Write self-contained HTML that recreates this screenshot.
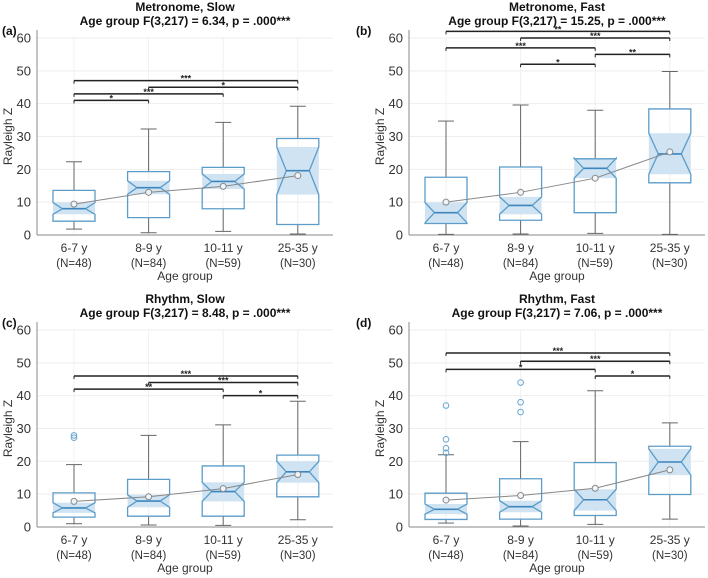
<!DOCTYPE html>
<html><head><meta charset="utf-8"><style>
body{margin:0;background:#fff;width:708px;height:578px;overflow:hidden}
svg{display:block;font-family:"Liberation Sans",Arial,sans-serif}
</style></head><body>
<svg id="fig" width="708" height="578" viewBox="0 0 708 578"></svg>
<script>
const categories=["6-7 y","8-9 y","10-11 y","25-35 y"];
const ns=["(N=48)","(N=84)","(N=59)","(N=30)"];
const yTicks=[0,10,20,30,40,50,60];
const titlesA=["Metronome, Slow","Metronome, Fast","Rhythm, Slow","Rhythm, Fast"];
const titlesB=["Age group F(3,217) = 6.34, p = .000***","Age group F(3,217) = 15.25, p = .000***","Age group F(3,217) = 8.48, p = .000***","Age group F(3,217) = 7.06, p = .000***"];
const panelLabels=["(a)","(b)","(c)","(d)"];
// per panel: [low, q1, med, q3, high, notchLo, notchHi, mean]
const statsA=[[1.8,4.2,8,13.6,22.3,6.3,9.9,9.4],[0.7,5.3,14.4,19.3,32.3,12.4,16.5,13],[1.1,8,16.3,20.6,34.3,14,18.6,14.8],[0.3,3.2,19.6,29.4,39.2,12.3,26.8,18.1]];
const statsB=[[0.2,3.5,6.8,17.6,34.7,3.7,9.9,10],[0.3,4.5,9,20.7,39.6,6.3,11.6,13],[0.5,6.8,20.3,23.2,38,17.3,23.4,17.3],[0.2,15.9,24.7,38.4,49.8,18.5,31,25.3]];
const statsC=[[1,3,5.8,10.4,19,4.3,7.4,7.8],[0.6,3.3,7.9,14.5,27.9,6,9.8,9.2],[0.5,3.3,10.8,18.6,31.1,7.8,13.6,11.7],[2.2,9.2,16.8,21.9,38.3,13.5,20,16]];
const statsD=[[1.2,2.3,5.4,10.3,22,3.9,7,8.2],[0.3,2.4,6.2,14.7,26,4.5,8,9.6],[0.8,3.5,8.3,19.6,41.5,5,11.5,11.8],[2.4,9.9,19.8,24.6,31.7,15.8,23.8,17.4]];
const outA=[[],[],[],[]];
const outB=[[],[],[],[]];
const outC=[[27.2,27.9],[],[],[]];
const outD=[[37,26.7,24,22.6],[35,38,44],[],[]];
// significance: [from, to, y, label]
const sigA=[[0,3,47,"***"],[1,3,45,"*"],[0,2,43,"***"],[0,1,41,"*"]];
const sigB=[[0,3,62,"**"],[1,3,60,"***"],[0,2,57,"***"],[2,3,55,"**"],[1,2,52,"*"]];
const sigC=[[0,3,46,"***"],[1,3,44,"***"],[0,2,42,"**"],[2,3,40,"*"]];
const sigD=[[0,3,53,"***"],[1,3,50.5,"***"],[0,2,48,"*"],[2,3,46,"*"]];

const panels=[
 {ox:0,oy:0,ax:37,stats:statsA,out:outA,sig:sigA},
 {ox:354,oy:0,ax:55,stats:statsB,out:outB,sig:sigB},
 {ox:0,oy:292,ax:37,stats:statsC,out:outC,sig:sigC},
 {ox:354,oy:292,ax:55,stats:statsD,out:outD,sig:sigD}];
const svg=document.getElementById('fig');
const NS="http://www.w3.org/2000/svg";
function mk(tag,attrs,parent,text){const e=document.createElementNS(NS,tag);for(const k in attrs)e.setAttribute(k,attrs[k]);if(text!==undefined)e.textContent=text;parent.appendChild(e);return e;}
panels.forEach((p,pi)=>{
 const g=mk('g',{transform:`translate(${p.ox},${p.oy})`},svg);
 
 
 const top=38,bot=235,left=p.ax,right=p.ax+296;
 const y=v=>bot-(v/60)*(bot-top);
 const x=i=>left+37+i*74.6;
 const half=21;
 yTicks.forEach(t=>{
  const gl=mk('line',{x1:left,x2:right,y1:y(t),y2:y(t),stroke:'#eeeeee','stroke-width':1},g);
  
  const tl=mk('text',{x:left-6,y:y(t)+4.5,'text-anchor':'end','font-size':13,fill:'#333'},g,String(t));
  
 });
 categories.forEach((c,i)=>{
  mk('line',{x1:x(i),x2:x(i),y1:top,y2:bot,stroke:'#f0f0f0'},g);
  const t1=mk('text',{x:x(i),y:bot+17,'text-anchor':'middle','font-size':12,fill:'#333'},g,c);
  
  const t2=mk('text',{x:x(i),y:bot+32,'text-anchor':'middle','font-size':11.5,fill:'#333'},g,ns[i]);
  
 });
 mk('line',{x1:left,x2:left,y1:top-8,y2:bot,stroke:'#888'},g);
 mk('line',{x1:left,x2:right,y1:bot,y2:bot,stroke:'#888'},g);
 const xt=mk('text',{x:(left+right)/2,y:bot+45,'text-anchor':'middle','font-size':12,fill:'#333'},g,'Age group');
 
 const yt=mk('text',{x:0,y:0,transform:`translate(${left-25},${(top+bot)/2}) rotate(-90)`,'text-anchor':'middle','font-size':12,fill:'#333'},g,'Rayleigh Z');
 
 const ta=mk('text',{x:(left+right)/2,y:11,'text-anchor':'middle','font-size':12,'font-weight':'bold',fill:'#111'},g,titlesA[pi]);
 
 const tb=mk('text',{x:(left+right)/2,y:25,'text-anchor':'middle','font-size':12,'font-weight':'bold',fill:'#111'},g,titlesB[pi]);
 
 const pl=mk('text',{x:2,y:35,'font-size':12,'font-weight':'bold',fill:'#111'},g,panelLabels[pi]);
 
 // boxes
 p.stats.forEach((s,i)=>{
  const [lo,q1,md,q3,hi,nl,nh,mn]=s;const cx=x(i),nw=half*0.55;
  mk('line',{x1:cx,x2:cx,y1:y(hi),y2:y(q3),stroke:'#666'},g);
  mk('line',{x1:cx,x2:cx,y1:y(q1),y2:y(lo),stroke:'#666'},g);
  mk('line',{x1:cx-8,x2:cx+8,y1:y(hi),y2:y(hi),stroke:'#666'},g);
  mk('line',{x1:cx-8,x2:cx+8,y1:y(lo),y2:y(lo),stroke:'#666'},g);
  const band=mk('rect',{x:cx-half,y:y(nh),width:2*half,height:y(nl)-y(nh),fill:'#cfe3f3'},g);
  
  const pts=[[cx-half,y(q1)],[cx-half,y(nl)],[cx-nw,y(md)],[cx-half,y(nh)],[cx-half,y(q3)],[cx+half,y(q3)],[cx+half,y(nh)],[cx+nw,y(md)],[cx+half,y(nl)],[cx+half,y(q1)]];
  const box=mk('polygon',{points:pts.map(a=>a.join(',')).join(' '),fill:'none',stroke:'#5b9cc9','stroke-width':1.3},g);
  
  mk('line',{x1:cx-nw,x2:cx+nw,y1:y(md),y2:y(md),stroke:'#3d86bd','stroke-width':1.6},g);
  p.out[i].forEach(o=>{const oc=mk('circle',{cx:cx,cy:y(o),r:2.8,fill:'none',stroke:'#6aa6d2','stroke-width':1},g);
   });
 });
 const mpts=p.stats.map((s,i)=>x(i)+','+y(s[7])).join(' ');
 mk('polyline',{points:mpts,fill:'none',stroke:'#888','stroke-width':1},g);
 p.stats.forEach((s,i)=>{const m=mk('circle',{cx:x(i),cy:y(s[7]),r:3,fill:'#eef4f9',stroke:'#888'},g);
  });
 p.sig.forEach(sg=>{
  const [a,b,v,lab]=sg;const yy=y(v);
  const l=mk('line',{x1:x(a),x2:x(b),y1:yy,y2:yy,stroke:'#222','stroke-width':1.5},g);
  
  mk('line',{x1:x(a),x2:x(a),y1:yy,y2:yy+3,stroke:'#222'},g);
  mk('line',{x1:x(b),x2:x(b),y1:yy,y2:yy+3,stroke:'#222'},g);
  const st=mk('text',{x:(x(a)+x(b))/2,y:yy+1,'text-anchor':'middle','font-size':9,'font-weight':'bold',fill:'#222'},g,lab);
  
 });
});
</script>
</body></html>
